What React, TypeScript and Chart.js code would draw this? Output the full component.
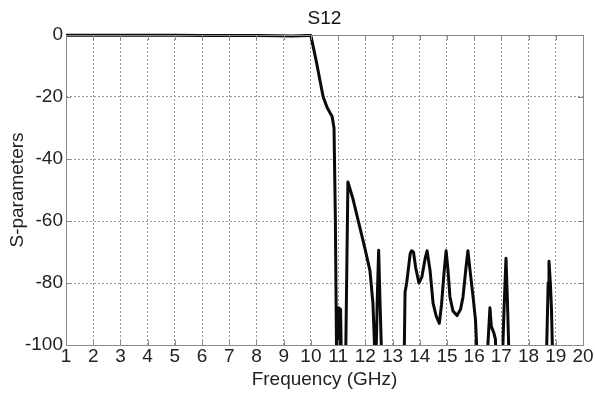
import React, { useEffect, useRef } from "react";
import { Chart, registerables } from "chart.js";

Chart.register(...registerables);

const freqGHz = [
  1, 2, 3, 4, 5, 6, 7, 8, 8.8, 9.3, 9.9, 10.0, 10.21, 10.33, 10.45, 10.6, 10.78, 10.85, 10.9, 10.95,
  10.98, 11.02, 11.09, 11.13, 11.27, 11.36, 11.55, 11.99, 12.17, 12.28, 12.38, 12.44, 12.49, 12.54, 12.62,
  13.42, 13.46, 13.52, 13.65, 13.7, 13.77, 13.85, 13.97, 14.08, 14.2, 14.27, 14.38, 14.49, 14.6, 14.72,
  14.8, 14.9, 14.97, 15.04, 15.11, 15.22, 15.37, 15.5, 15.59, 15.7, 15.77, 15.85, 15.96, 16.05, 16.14,
  16.44, 16.58, 16.63, 16.72, 16.78, 16.83, 17.02, 17.1, 17.17, 17.22, 17.3, 18.64, 18.72, 18.75, 18.8,
  18.84, 18.9, 20,
];
const s12dB = [
  -0.05, -0.05, -0.05, -0.1, -0.1, -0.15, -0.15, -0.2, -0.25, -0.3, -0.2, -0.2, -9, -14.5, -19.9, -23.5, -26.3, -30, -60, -110,
  -110, -88, -88.5, -110, -110, -47.4, -53, -69, -76, -86.5, -110, -85, -69.4, -86, -110,
  -110, -83, -80, -70.5, -69.6, -70, -75, -80, -78, -72, -69.6, -76, -86.5, -90.5, -93,
  -87, -76, -69.6, -76, -84.5, -89, -90.5, -88.5, -84.5, -75, -69.6, -76, -84.5, -92, -110,
  -110, -88, -94, -96, -98, -110, -110, -88, -72, -85, -110, -110, -80, -73, -80,
  -88, -110, -110,
];

const yTicks = [0, -20, -40, -60, -80, -100];
const xTicks = [1, 2, 3, 4, 5, 6, 7, 8, 9, 10, 11, 12, 13, 14, 15, 16, 17, 18, 19, 20];

const FONT = "'Liberation Sans', Arial, Helvetica, sans-serif";
const AXIS = "#8a8a8a";

const boxPlugin = {
  id: "boxPlugin",
  afterDatasetsDraw(chart: any) {
    const { ctx, chartArea: a, scales } = chart;
    ctx.save();
    ctx.strokeStyle = AXIS;
    ctx.lineWidth = 1;
    ctx.setLineDash([]);
    const L = 5;
    ctx.beginPath();
    xTicks.forEach((t) => {
      const x = Math.round(scales.x.getPixelForValue(t)) + 0.5;
      ctx.moveTo(x, a.bottom);
      ctx.lineTo(x, a.bottom - L);
      ctx.moveTo(x, a.top);
      ctx.lineTo(x, a.top + L);
    });
    yTicks.forEach((t) => {
      const y = Math.round(scales.y.getPixelForValue(t)) + 0.5;
      ctx.moveTo(a.left, y);
      ctx.lineTo(a.left + L, y);
      ctx.moveTo(a.right, y);
      ctx.lineTo(a.right - L, y);
    });
    ctx.stroke();
    ctx.strokeRect(Math.round(a.left) + 0.5, Math.round(a.top) + 0.5, Math.round(a.right - a.left), Math.round(a.bottom - a.top));
    ctx.restore();
  },
};

export default function App() {
  const ref = useRef<HTMLCanvasElement | null>(null);
  useEffect(() => {
    if (!ref.current) return;
    const chart = new Chart(ref.current, {
      type: "line",
      data: {
        datasets: [
          {
            label: "S12",
            data: freqGHz.map((f, i) => ({ x: f, y: s12dB[i] })),
            borderColor: "#0a0a0a",
            borderWidth: 3,
            pointRadius: 0,
            tension: 0,
            borderJoinStyle: "round",
            fill: false,
            clip: { left: 0, right: 0, top: 2, bottom: 0 } as any,
          },
        ],
      },
      options: {
        animation: false,
        responsive: true,
        maintainAspectRatio: false,
        layout: { padding: { left: 0, right: 12, top: 0, bottom: 0 } },
        plugins: {
          legend: { display: false },
          tooltip: { enabled: false },
          title: {
            display: true,
            text: "S12",
            fullSize: false,
            color: "#111",
            font: { family: FONT, size: 19, weight: "normal" },
            padding: { top: 7, bottom: 5.2 },
          },
        },
        scales: {
          x: {
            type: "linear",
            min: 1,
            max: 20,
            afterFit: (s: any) => {
              s.height = 49;
            },
            afterBuildTicks: (s: any) => {
              s.ticks = xTicks.map((v) => ({ value: v }));
            },
            ticks: {
              autoSkip: false,
              maxRotation: 0,
              padding: 0,
              color: "#222",
              font: { family: FONT, size: 19 },
            },
            grid: {
              color: "#9a9a9a",
              lineWidth: 1,
              drawTicks: false,
              tickLength: 0,
            },
            border: { display: false, dash: [2, 2] },
            title: {
              display: true,
              text: "Frequency (GHz)",
              color: "#222",
              font: { family: FONT, size: 19 },
              padding: { top: 0, bottom: 2.5 },
            },
          },
          y: {
            type: "linear",
            min: -100,
            max: 0,
            afterFit: (s: any) => {
              s.width = 66;
            },
            afterBuildTicks: (s: any) => {
              s.ticks = yTicks.map((v) => ({ value: v }));
            },
            ticks: {
              padding: 3,
              color: "#222",
              font: { family: FONT, size: 19 },
            },
            grid: {
              color: "#9a9a9a",
              lineWidth: 1,
              drawTicks: false,
              tickLength: 0,
            },
            border: { display: false, dash: [2, 2] },
            title: {
              display: true,
              text: "S-parameters",
              color: "#222",
              font: { family: FONT, size: 19 },
              padding: { top: 6.6, bottom: 0 },
            },
          },
        },
      },
      plugins: [boxPlugin],
    });
    return () => chart.destroy();
  }, []);
  return (
    <div style={{ position: "fixed", left: 0, top: 0, width: 595, height: 394, background: "#fff" }}>
      <canvas ref={ref} />
    </div>
  );
}
